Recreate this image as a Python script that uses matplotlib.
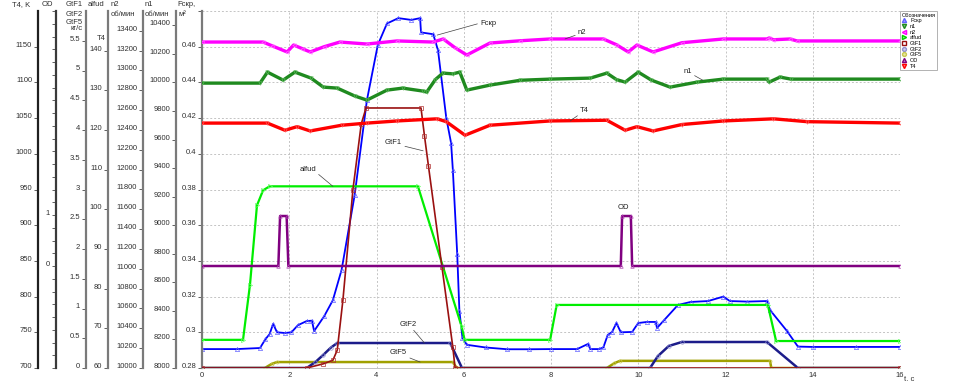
import matplotlib
matplotlib.use('Agg')
import matplotlib.pyplot as plt
from matplotlib.ticker import MultipleLocator, FixedLocator, FuncFormatter
from matplotlib.lines import Line2D

plt.rcParams['font.family'] = ['Liberation Sans', 'DejaVu Sans']

# ---------------- data ----------------
fcr_t = [0, 0.8, 1.33, 1.45, 1.55, 1.63, 1.72, 1.9, 2.05, 2.2, 2.4, 2.52, 2.57, 2.8, 3.0, 3.2,
         3.5, 3.78, 4.03, 4.24, 4.5, 4.8, 5.0, 5.02, 5.3, 5.41, 5.6, 5.71, 5.75, 5.85, 5.9,
         5.97, 6.07, 6.5, 7.0, 7.5, 8.0, 8.6, 8.85, 8.9, 9.1, 9.2, 9.3, 9.4, 9.5, 9.6, 9.86,
         10.0, 10.2, 10.4, 10.43, 10.6, 10.91, 11.2, 11.6, 11.95, 12.1, 12.5, 12.95, 13.02,
         13.4, 13.66, 14.0, 15.0, 16.0]
fcr_v = [0.2906, 0.2906, 0.2912, 0.2960, 0.2990, 0.3047, 0.3000, 0.2996, 0.3000, 0.3040,
         0.3063, 0.3065, 0.3007, 0.3090, 0.3180, 0.3350, 0.3770, 0.4300, 0.4610, 0.4730,
         0.4760, 0.4750, 0.4760, 0.4680, 0.4670, 0.4580, 0.4200, 0.4060, 0.3910, 0.3440,
         0.3120, 0.2970, 0.2930, 0.2915, 0.2905, 0.2905, 0.2906, 0.2906, 0.2935, 0.2906,
         0.2906, 0.2915, 0.2985, 0.3002, 0.3052, 0.3000, 0.3002, 0.3052, 0.3058, 0.3058,
         0.3024, 0.3070, 0.3153, 0.3170, 0.3175, 0.3200, 0.3175, 0.3172, 0.3175, 0.3125,
         0.3010, 0.2920, 0.2918, 0.2918, 0.2918]

n1_t = [0, 1.33, 1.5, 1.86, 2.13, 2.5, 2.78, 3.1, 3.5, 3.78, 4.24, 4.6, 5.07, 5.15, 5.35,
        5.52, 5.75, 5.91, 6.07, 6.6, 7.3, 7.98, 8.9, 9.28, 9.5, 9.7, 10.0, 10.3, 10.73,
        11.35, 11.95, 12.95, 13.0, 13.25, 13.5, 16.0]
n1_v = [9995, 9995, 10072, 10016, 10072, 10030, 9967, 9960, 9905, 9876, 9946, 9960, 9939,
        9932, 10020, 10065, 10060, 10072, 9946, 9981, 10015, 10023, 10030, 10065, 10020,
        10002, 10072, 10016, 9967, 10002, 10023, 10023, 10002, 10037, 10023, 10023]

n2_t = [0, 1.4, 1.6, 1.95, 2.1, 2.3, 2.48, 2.8, 3.16, 3.78, 4.47, 5.3, 5.53, 5.8, 6.07, 6.6,
        7.3, 7.98, 9.2, 9.5, 9.77, 9.97, 10.34, 11.0, 11.95, 12.95, 13.0, 13.1, 13.48,
        13.64, 16.0]
n2_v = [13287, 13287, 13250, 13187, 13257, 13220, 13187, 13240, 13287, 13267, 13298, 13287,
        13318, 13230, 13156, 13277, 13300, 13318, 13318, 13260, 13187, 13257, 13187, 13280,
        13318, 13318, 13328, 13310, 13318, 13298, 13298]

t4_t = [0, 1.5, 1.9, 2.18, 2.48, 3.2, 3.78, 4.47, 5.39, 5.6, 6.03, 6.6, 7.98, 9.28, 9.7,
        9.97, 10.34, 11.0, 11.95, 13.1, 13.87, 16.0]
t4_v = [1043, 1043, 1033, 1038, 1032, 1040, 1043, 1046, 1049, 1045, 1026, 1040, 1046, 1047,
        1033, 1038, 1032, 1041, 1046, 1049, 1045, 1043]

alf_t = [0, 0.94, 1.1, 1.26, 1.4, 1.55, 4.95, 5.95, 6.02, 7.98, 8.13, 12.97, 13.16, 16.0]
alf_v = [67.1, 67.1, 81.0, 101.0, 104.8, 105.8, 105.8, 70.5, 67.1, 67.1, 75.9, 75.9, 66.8, 66.8]

gif1_t = [0, 2.4, 2.78, 3.0, 3.1, 3.23, 3.46, 3.65, 3.76, 5.02, 5.1, 5.19, 5.5, 5.75, 5.8, 16.0]
gif1_v = [0, 0, 0.07, 0.13, 0.3, 1.14, 3.0, 4.1, 4.37, 4.37, 3.9, 3.4, 1.7, 0.35, 0, 0]

gif2_t = [0, 2.4, 2.6, 2.78, 2.95, 3.1, 5.69, 5.96, 10.27, 10.45, 10.7, 11.0, 12.95, 13.66, 16.0]
gif2_v = [0, 0, 0.1, 0.22, 0.34, 0.42, 0.42, 0, 0, 0.2, 0.37, 0.437, 0.437, 0, 0]

gif5_t = [0, 1.44, 1.6, 1.72, 5.75, 5.84, 9.28, 9.45, 9.58, 13.02, 13.05, 16.0]
gif5_v = [0, 0, 0.07, 0.1, 0.1, 0, 0, 0.08, 0.12, 0.12, 0, 0]

od_t = [0, 1.75, 1.79, 1.94, 1.98, 9.6, 9.63, 9.83, 9.86, 16.0]
od_v = [0, 0, 0.98, 0.98, 0, 0, 0.98, 0.98, 0, 0]

x_ticks = [0, 2, 4, 6, 8, 10, 12, 14, 16]
fcr_ticks = [0.28, 0.30, 0.32, 0.34, 0.36, 0.38, 0.40, 0.42, 0.44, 0.46, 0.48]
n1_ticks = list(range(8000, 10401, 200))
n2_ticks = list(range(10000, 13401, 200))
alf_ticks = list(range(60, 141, 10))
gif_ticks = [0, 0.5, 1, 1.5, 2, 2.5, 3, 3.5, 4, 4.5, 5, 5.5]
od_ticks = [0, 1]
t4_ticks = list(range(700, 1151, 50))

legend_labels = ['Fcкр', 'n1', 'n2', 'alfud', 'GtF1', 'GtF2', 'GtF5', 'OD', 'T4']

# ---------------- figure ----------------
W, H = 955, 381
fig = plt.figure(figsize=(W / 100, H / 100), dpi=100)
L, R, B, T = 202, 900, 368, 11
ax = fig.add_axes([L / W, 1 - B / H, (R - L) / W, (B - T) / H])

TICK_FS = 5.5
LBL_C = '#303030'


def fmt(v, pos=None):
    return f"{round(v, 4):g}"


def style_axis(a, lim, ticks, spine_color, hide_last=False):
    a.set_ylim(*lim)
    a.yaxis.set_major_locator(FixedLocator(ticks))
    if hide_last:
        a.yaxis.set_major_formatter(FuncFormatter(lambda v, p: '' if abs(v - ticks[-1]) < 1e-9 else fmt(v)))
    else:
        a.yaxis.set_major_formatter(FuncFormatter(fmt))
    a.tick_params(axis='y', which='both', direction='out', length=3, width=0.7,
                  color='#606060', pad=1.2, labelsize=TICK_FS, labelcolor=LBL_C)
    a.spines['left'].set_color(spine_color)
    a.spines['left'].set_linewidth(1.6)
    for lbl in a.get_yticklabels():
        lbl.set_verticalalignment('baseline')


def side_axis(px_x):
    a = ax.twinx()
    a.yaxis.tick_left()
    a.spines['left'].set_position(('axes', (px_x - L) / (R - L)))
    a.spines['left'].set_visible(True)
    for s in ['right', 'top', 'bottom']:
        a.spines[s].set_visible(False)
    a.patch.set_visible(False)
    return a


# main axis (Fcкр)
ax.set_xlim(0, 16)
style_axis(ax, (0.28, 0.48), fcr_ticks, '#7a7a7a', hide_last=True)
for s in ['right', 'top']:
    ax.spines[s].set_visible(False)
ax.spines['bottom'].set_color('#b8b8b8')
ax.spines['bottom'].set_linewidth(0.6)
ax.set_xticks(x_ticks)
ax.set_xticklabels([str(v) for v in x_ticks])
ax.tick_params(axis='x', length=0, pad=3, labelsize=TICK_FS, labelcolor=LBL_C)
ax.grid(True, color='#c4c4c4', lw=0.7, ls=(0, (2, 2)))
ax.set_axisbelow(True)

ax_n1 = side_axis(176)
style_axis(ax_n1, (8000, 10500), n1_ticks, '#7a7a7a')
ax_n2 = side_axis(143)
style_axis(ax_n2, (10000, 13600), n2_ticks, '#7a7a7a')
ax_alf = side_axis(108)
style_axis(ax_alf, (60, 150), alf_ticks, '#7a7a7a')
ax_gif = side_axis(86)
style_axis(ax_gif, (0, 6), gif_ticks, '#7a7a7a')
ax_od = side_axis(56)
style_axis(ax_od, (-2, 5), od_ticks, '#3a3a3a')
ax_od.yaxis.set_minor_locator(MultipleLocator(0.25))
ax_t4 = side_axis(38)
style_axis(ax_t4, (700, 1200), t4_ticks, '#202020')

# ---------------- series ----------------
st = dict(mew=0.5)
ax.plot(fcr_t, fcr_v, color='#0000ff', lw=1.3, marker='^', ms=3, mfc='none', mec='#6060ff', **st)
ax_n1.plot(n1_t, n1_v, color='#1f8a1f', lw=2.4, marker='v', ms=2.5, mfc='none', mec='#5cb85c', **st)
ax_n2.plot(n2_t, n2_v, color='#ff00ff', lw=2.4, marker='<', ms=2.5, mfc='none', mec='#ff66ff', **st)
ax_t4.plot(t4_t, t4_v, color='#ff0000', lw=2.4, marker='v', ms=2.5, mfc='none', mec='#ff5a5a', **st)
ax_alf.plot(alf_t, alf_v, color='#00ee00', lw=1.6, marker='>', ms=3, mfc='none', mec='#66ff66', **st)
ax_gif.plot(gif5_t, gif5_v, color='#a0a000', lw=1.8, marker='o', ms=2.2, mfc='none', mec='#c8c850', **st)
ax_gif.plot(gif2_t, gif2_v, color='#1c1c8a', lw=1.8, marker='o', ms=2.5, mfc='none', mec='#9090d0', **st)
ax_gif.plot(gif1_t, gif1_v, color='#9a1010', lw=1.2, marker='s', ms=3, mfc='none', mec='#b03030', **st)
ax_od.plot(od_t, od_v, color='#800080', lw=1.8, marker='^', ms=2.5, mfc='none', mec='#b040b0', **st)

# ---------------- leader labels ----------------
ANN_FS = 5.5
lead = dict(arrowstyle='-', color='#404040', lw=0.5, shrinkA=0, shrinkB=0)


def tag(a, text, xy, dx, dy, ha, relpos, arrow=True):
    kw = dict(xy=xy, xycoords='data', xytext=(dx, dy), textcoords='offset pixels',
              ha=ha, va='center', fontsize=ANN_FS, color='#202020')
    if arrow:
        kw['arrowprops'] = dict(lead, relpos=relpos)
    a.annotate(text, **kw)


tag(ax, 'Fcкр', (5.39, 0.4665), 43, 12, 'left', (0, 0.5))
tag(ax_n2, 'n2', (8.32, 13318), 13, 6, 'left', (0, 0.3))
tag(ax_n1, 'n1', (11.48, 10015), -11, 9, 'right', (1, 0.1))
tag(ax_t4, 'T4', (8.44, 1046), 10, 10, 'left', (0, 0.1))
tag(ax_gif, 'GtF1', (5.07, 3.65), -21, 8, 'right', (1, 0.1))
tag(ax_alf, 'alfud', (3.0, 105.8), -17, 17, 'right', (1, 0.1))
tag(ax_gif, 'GtF2', (5.1, 0.42), -8, 19, 'right', (0.7, 0))
tag(ax_gif, 'GtF5', (5.0, 0.1), -13, 10, 'right', (0.8, 0))
tag(ax_od, 'OD', (9.72, 0.98), -3, 9, 'center', (0.5, 0), arrow=False)

# ---------------- axis headers ----------------
def ftxt(px, py, s, ha='left'):
    fig.text(px / W, 1 - py / H, s, ha=ha, va='center', fontsize=TICK_FS, color=LBL_C)


ftxt(12, 5, 'T4, K')
ftxt(42, 5, 'OD')
ftxt(83, 5, 'GtF1', 'right')
ftxt(83, 14, 'GtF2', 'right')
ftxt(83, 22, 'GtF5', 'right')
ftxt(83, 29, 'кг/с', 'right')
ftxt(88, 5, 'alfud')
ftxt(97, 38, 'T4')
ftxt(111, 5, 'n2')
ftxt(111, 14, 'об/мин')
ftxt(145, 5, 'n1')
ftxt(145, 14, 'об/мин')
ftxt(177, 5, 'Fcкр,')
ftxt(178, 14, 'м²')
ftxt(904, 379, 't, c')

# ---------------- legend ----------------
handles = [
    Line2D([], [], ls='none', marker='^', ms=3, color='#6060ff', mfc='#a0a0ff'),
    Line2D([], [], ls='none', marker='v', ms=3, color='#1f8a1f', mfc='#80c080'),
    Line2D([], [], ls='none', marker='<', ms=3, color='#ff00ff', mfc='#ff80ff'),
    Line2D([], [], ls='none', marker='>', ms=3, color='#00cc00', mfc='#80ff80'),
    Line2D([], [], ls='none', marker='s', ms=2.6, color='#9a1010', mfc='none'),
    Line2D([], [], ls='none', marker='o', ms=2.8, color='#9090d0', mfc='#d0d0f0'),
    Line2D([], [], ls='none', marker='o', ms=2.8, color='#c8c850', mfc='#e8e8a0'),
    Line2D([], [], ls='none', marker='^', ms=3, color='#800080', mfc='#c080c0'),
    Line2D([], [], ls='none', marker='v', ms=3, color='#ff0000', mfc='#ff8080'),
]
leg = fig.legend(handles, legend_labels, loc='upper left', bbox_to_anchor=(900 / W, 1 - 11 / H),
                 fontsize=4.0, title='Обозначения', title_fontsize=4.0, frameon=True,
                 fancybox=False, edgecolor='#909090', borderpad=0.3, labelspacing=0.12,
                 handletextpad=0.5, handlelength=1.0, borderaxespad=0)
leg._legend_box.align = 'left'
leg.get_frame().set_linewidth(0.6)

fig.savefig('out.png', dpi=100)
